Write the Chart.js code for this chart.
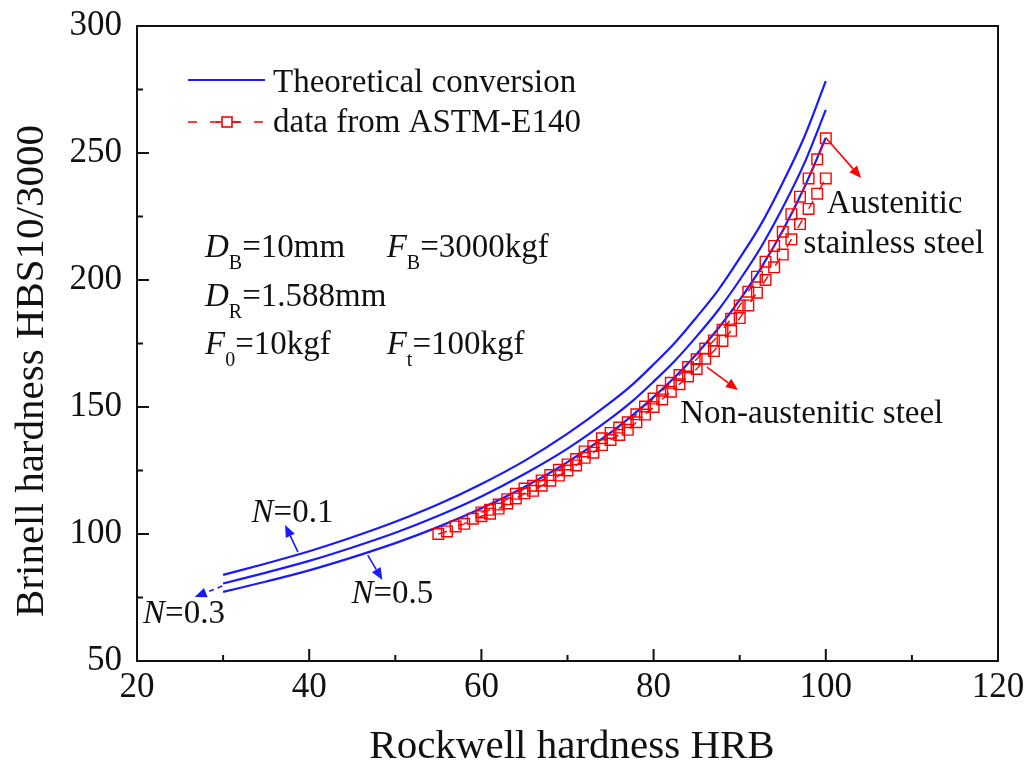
<!DOCTYPE html>
<html>
<head>
<meta charset="UTF-8">
<title>Rockwell B to Brinell conversion</title>
<script src="https://cdn.jsdelivr.net/npm/chart.js"></script>
<style>
  body { margin: 0; background: #fff; }
  canvas { display: block; }
</style>
</head>
<body>
<canvas id="chart" width="1028" height="760"></canvas>
<script>
// theoretical conversion curves (HRB -> HBS10/3000) for N = 0.1, 0.3, 0.5
const hrbCurve = [30, 35, 40, 45, 50, 55, 60, 65, 70, 75, 77.5, 80, 82.5, 85, 87.5, 90, 92.5, 95, 97.5, 100];
const hbsN01 = [83.9, 88.4, 93.2, 98.7, 104.8, 111.7, 119.7, 128.8, 139.5, 151.8, 158.7, 166.8, 175.4, 185.4, 196.0, 208.6, 222.1, 238.3, 256.3, 278.3];
const hbsN03 = [80.5, 84.8, 89.4, 94.7, 100.5, 107.2, 114.8, 123.6, 133.6, 145.5, 152.2, 160.0, 168.3, 177.8, 188.1, 200.0, 213.1, 228.5, 245.9, 267.0];
const hbsN05 = [77.2, 81.3, 85.7, 90.8, 96.4, 102.8, 110.1, 118.5, 128.3, 139.9, 146.6, 153.9, 161.9, 170.9, 180.9, 192.2, 204.9, 219.5, 236.4, 256.0];

// ASTM-E140 tables
const hrbNonAus = [55, 56, 57, 58, 59, 60, 61, 62, 63, 64, 65, 66, 67, 68, 69, 70, 71, 72, 73, 74, 75, 76, 77,
  78, 79, 80, 81, 82, 83, 84, 85, 86, 87, 88, 89, 90, 91, 92, 93, 94, 95, 96, 97, 98, 99, 100];
const hbsNonAus = [100, 101, 103, 104, 106, 107, 108, 110, 112, 114, 116, 117, 119, 121, 123, 125, 127, 130, 132, 135, 137, 139, 141,
  144, 147, 150, 153, 156, 159, 162, 165, 169, 172, 176, 180, 185, 190, 195, 200, 205, 210, 216, 222, 228, 234, 240];
const hrbAus = [60, 61, 62, 63, 64, 65, 66, 67, 68, 69, 70, 71, 72, 73, 74, 75, 76, 77, 78, 79, 80,
  81, 82, 83, 84, 85, 86, 87, 88, 89, 90, 91, 92, 93, 94, 95, 96, 97, 98, 99, 100];
const hbsAus = [108.5, 109.5, 111.6, 113.7, 115.8, 117.9, 119, 121.1, 123.2, 125.3, 127.4, 129.5, 132.5, 134.6, 137.7, 139.8, 141.9, 144, 147.1, 150.2, 153.3,
  156.4, 159.5, 162.6, 165.7, 168.8, 173, 176.2, 180.4, 184.7, 190, 195.4, 201.3, 207.2, 213.4, 219, 225.9, 232.8, 240, 247.5, 255.8];

const xTicks = [20, 40, 60, 80, 100, 120];
const yTicks = [50, 100, 150, 200, 250, 300];

const serif = "'Liberation Serif', 'Times New Roman', serif";
const blue = '#1a1aff';
const red = '#ff0000';

const pts = (xs, ys) => xs.map((x, i) => ({ x: x, y: ys[i] }));

function curve(label, ys) {
  return {
    label: label, data: pts(hrbCurve, ys), showLine: true, borderColor: blue, borderWidth: 2.2,
    pointRadius: 0, cubicInterpolationMode: 'monotone', order: 1
  };
}
function astm(label, xs, ys) {
  return {
    label: label, data: pts(xs, ys), showLine: true, borderColor: red, borderWidth: 1.4,
    borderDash: [9, 13], pointStyle: 'rect', pointRadius: 7.5, pointBorderWidth: 1.4,
    pointBorderColor: red, pointBackgroundColor: 'rgba(0,0,0,0)', order: 0
  };
}

function arrow(ctx, x0, y0, x1, y1, color, dashed) {
  const a = Math.atan2(y1 - y0, x1 - x0), c = Math.cos(a), s = Math.sin(a);
  const head = 12, half = 5;
  ctx.strokeStyle = color; ctx.fillStyle = color; ctx.lineWidth = 1.6;
  ctx.setLineDash(dashed ? [5, 4] : []);
  ctx.beginPath(); ctx.moveTo(x0, y0); ctx.lineTo(x1 - head * c, y1 - head * s); ctx.stroke();
  ctx.setLineDash([]);
  ctx.beginPath();
  ctx.moveTo(x1, y1);
  ctx.lineTo(x1 - head * c + half * s, y1 - head * s - half * c);
  ctx.lineTo(x1 - head * c - half * s, y1 - head * s + half * c);
  ctx.closePath(); ctx.fill();
}

// runs of [text, style]: '' normal, 'i' italic, 's' subscript
function richText(ctx, runs, x, y, align) {
  const fontFor = st => st === 's' ? '20px ' + serif : (st === 'i' ? 'italic 33px ' + serif : '33px ' + serif);
  let w = 0;
  runs.forEach(([t, st]) => { ctx.font = fontFor(st); w += ctx.measureText(t).width; });
  let cx = align === 'center' ? x - w / 2 : x;
  ctx.textAlign = 'left'; ctx.textBaseline = 'alphabetic'; ctx.fillStyle = '#111';
  runs.forEach(([t, st]) => {
    ctx.font = fontFor(st);
    ctx.fillText(t, cx, st === 's' ? y + 12 : y);
    cx += ctx.measureText(t).width;
  });
}

const labels = [
  { at: [27.9, 209.1], runs: [['D', 'i'], ['B', 's'], ['=10mm', '']] },
  { at: [49.0, 209.1], runs: [['F', 'i'], ['B', 's'], ['=3000kgf', '']] },
  { at: [27.9, 189.8], runs: [['D', 'i'], ['R', 's'], ['=1.588mm', '']] },
  { at: [27.9, 170.9], runs: [['F', 'i'], ['0', 's'], ['=10kgf', '']] },
  { at: [49.0, 170.9], runs: [['F', 'i'], ['t', 's'], ['=100kgf', '']] },
  { at: [108.0, 226.4], runs: [['Austenitic', '']], align: 'center' },
  { at: [107.9, 210.6], runs: [['stainless steel', '']], align: 'center' },
  { at: [83.1, 143.7], runs: [['Non-austenitic steel', '']] },
  { at: [33.3, 104.7], runs: [['N', 'i'], ['=0.1', '']] },
  { at: [44.9, 72.8], runs: [['N', 'i'], ['=0.5', '']] },
  { at: [20.7, 65.0], runs: [['N', 'i'], ['=0.3', '']] }
];
const arrows = [
  { from: [38.7, 92.9], to: [37.2, 103.5], color: blue },
  { from: [46.8, 91.7], to: [48.5, 81.9], color: blue },
  { from: [29.9, 79.5], to: [26.7, 75.2], color: blue, dashed: true },
  { from: [100, 256], to: [104.1, 240.2], color: red },
  { from: [86.2, 165.7], to: [89.8, 156.7], color: red }
];

const deco = {
  id: 'deco',
  afterDraw(chart) {
    const { ctx, chartArea: a, scales: { x, y } } = chart;
    ctx.save();
    // frame and inward ticks
    ctx.strokeStyle = '#111'; ctx.lineWidth = 2; ctx.setLineDash([]);
    ctx.strokeRect(a.left, a.top, a.right - a.left, a.bottom - a.top);
    ctx.beginPath();
    for (let v = 20; v <= 120; v += 10) {
      const px = x.getPixelForValue(v), len = v % 20 === 0 ? 12 : 6;
      ctx.moveTo(px, a.bottom); ctx.lineTo(px, a.bottom - len);
    }
    for (let v = 50; v <= 300; v += 25) {
      const py = y.getPixelForValue(v), len = v % 50 === 0 ? 12 : 6;
      ctx.moveTo(a.left, py); ctx.lineTo(a.left + len, py);
    }
    ctx.stroke();

    // legend
    ctx.strokeStyle = blue; ctx.lineWidth = 2.2;
    ctx.beginPath(); ctx.moveTo(188, 80); ctx.lineTo(265, 80); ctx.stroke();
    ctx.strokeStyle = red; ctx.lineWidth = 1.6; ctx.setLineDash([9, 13]);
    ctx.beginPath(); ctx.moveTo(188, 122); ctx.lineTo(266, 122); ctx.stroke();
    ctx.setLineDash([]);
    ctx.beginPath(); ctx.moveTo(216, 122); ctx.lineTo(240, 122); ctx.stroke();
    ctx.fillStyle = '#fff';
    ctx.fillRect(222, 117, 10, 10); ctx.strokeRect(222, 117, 10, 10);
    ctx.fillStyle = '#111'; ctx.font = '33px ' + serif; ctx.textAlign = 'left'; ctx.textBaseline = 'alphabetic';
    ctx.fillText('Theoretical conversion', 273, 92);
    ctx.fillText('data from ASTM-E140', 273, 132);

    // annotations
    labels.forEach(l => richText(ctx, l.runs, x.getPixelForValue(l.at[0]), y.getPixelForValue(l.at[1]), l.align));
    arrows.forEach(r => arrow(ctx, x.getPixelForValue(r.from[0]), y.getPixelForValue(r.from[1]),
      x.getPixelForValue(r.to[0]), y.getPixelForValue(r.to[1]), r.color, r.dashed));

    // axis titles
    ctx.fillStyle = '#111'; ctx.font = '41px ' + serif; ctx.textAlign = 'center'; ctx.textBaseline = 'alphabetic';
    ctx.fillText('Rockwell hardness HRB', 572, 758);
    ctx.translate(43, 371); ctx.rotate(-Math.PI / 2);
    ctx.fillText('Brinell hardness HBS10/3000', 0, 0);
    ctx.restore();
  }
};

new Chart(document.getElementById('chart'), {
  type: 'scatter',
  data: {
    datasets: [
      curve('N=0.1', hbsN01),
      curve('N=0.3', hbsN03),
      curve('N=0.5', hbsN05),
      astm('Non-austenitic steel', hrbNonAus, hbsNonAus),
      astm('Austenitic stainless steel', hrbAus, hbsAus)
    ]
  },
  options: {
    responsive: false,
    animation: false,
    layout: { padding: { left: 0, right: 30, top: 26, bottom: 0 } },
    plugins: { legend: { display: false }, tooltip: { enabled: false } },
    scales: {
      x: {
        type: 'linear', min: 20, max: 120,
        afterBuildTicks: s => { s.ticks = xTicks.map(v => ({ value: v })); },
        ticks: { color: '#111', padding: 9, font: { family: serif, size: 35, lineHeight: 1 } },
        grid: { display: false, drawTicks: false },
        border: { display: false },
        afterFit: s => { s.height = 99; s.paddingLeft = 0; s.paddingRight = 0; }
      },
      y: {
        type: 'linear', min: 50, max: 300,
        afterBuildTicks: s => { s.ticks = yTicks.map(v => ({ value: v })); },
        ticks: { color: '#111', padding: 15, font: { family: serif, size: 35, lineHeight: 1 } },
        grid: { display: false, drawTicks: false },
        border: { display: false },
        afterFit: s => { s.width = 137; s.paddingTop = 0; s.paddingBottom = 0; }
      }
    }
  },
  plugins: [deco]
});
</script>
</body>
</html>
